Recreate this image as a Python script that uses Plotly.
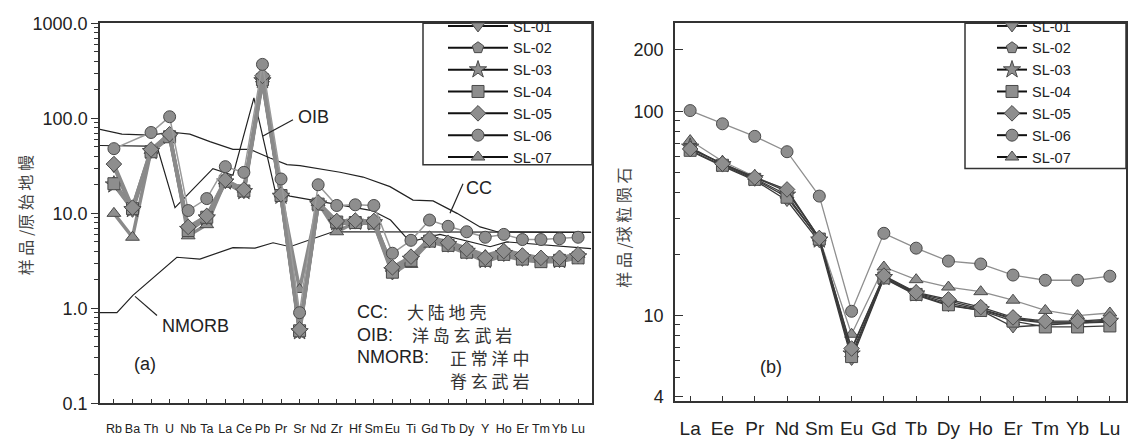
import plotly.graph_objects as go

# ---------------- data ----------------
spider_elements = ["Rb", "Ba", "Th", "U", "Nb", "Ta", "La", "Ce", "Pb", "Pr", "Sr", "Nd", "Zr",
                   "Hf", "Sm", "Eu", "Ti", "Gd", "Tb", "Dy", "Y", "Ho", "Er", "Tm", "Yb", "Lu"]
ree_elements = ["La", "Ee", "Pr", "Nd", "Sm", "Eu", "Gd", "Tb", "Dy", "Ho", "Er", "Tm", "Yb", "Lu"]
samples = ["SL-01", "SL-02", "SL-03", "SL-04", "SL-05", "SL-06", "SL-07"]
symbols = ["triangle-down", "pentagon", "star", "square", "diamond", "circle", "triangle-up"]

# primitive-mantle normalised (a)
pm_SL01 = [31, 10.5, 44, 63, 6.5, 8.8, 21, 16.5, 240, 15, 0.55, 12.3, 7.8, 7.9, 7.8, 2.3, 3.1, 5.0, 4.5, 3.8, 3.1, 3.6, 3.2, 3.1, 3.1, 3.4]
pm_SL02 = [21, 11.5, 46, 66, 7.0, 9.3, 22, 17.5, 260, 15.5, 0.60, 12.8, 8.2, 8.3, 8.2, 2.6, 3.4, 5.3, 4.8, 4.1, 3.3, 3.9, 3.5, 3.3, 3.3, 3.6]
pm_SL03 = [20, 11, 45, 65, 6.8, 9.0, 21.5, 17, 250, 15.2, 0.57, 12.6, 8.0, 8.1, 8.0, 2.5, 3.3, 5.2, 4.7, 4.0, 3.2, 3.8, 3.4, 3.2, 3.2, 3.5]
pm_SL04 = [20.5, 11.2, 44.5, 64, 6.6, 9.1, 21.8, 17.2, 255, 15.4, 0.58, 12.5, 8.1, 8.0, 7.9, 2.4, 3.2, 5.1, 4.6, 3.9, 3.2, 3.7, 3.3, 3.1, 3.2, 3.4]
pm_SL05 = [33, 11.5, 47, 68, 7.2, 9.4, 22.5, 17.8, 280, 15.8, 0.60, 13, 8.3, 8.4, 8.3, 2.7, 3.5, 5.4, 4.9, 4.2, 3.4, 4.0, 3.6, 3.4, 3.4, 3.7]
pm_SL06 = [48, None, 71, 104, 10.7, 14.3, 31, 27, 370, 23, 0.90, 20, 12.1, 12.3, 12.1, 3.8, 5.2, 8.5, 7.3, 6.4, 5.6, 6.0, 5.3, 5.3, 5.4, 5.6]
pm_SL07 = [10, 5.6, 46, 70, 5.8, 7.6, 22, 18, 260, 16, 1.58, 13, 6.4, 8.0, 8.2, 2.7, 2.9, 5.6, 5.0, 4.3, 3.6, 4.1, 3.7, 3.4, 3.4, 3.7]
pm_values = [pm_SL01, pm_SL02, pm_SL03, pm_SL04, pm_SL05, pm_SL06, pm_SL07]

# reference curves (a), positions on the element index scale
ref_upper_x = [-0.75, 0.43, 1.94, 3.13, 4.09, 5.17, 6.41, 7.33, 8.41, 9.32, 10.02, 12.18, 13.42, 14.87, 16.11, 17.19, 18.48, 19.72, 20.64, 25.7]
ref_upper_y = [76.6, 68.3, 66.7, 71.4, 68.3, 56.8, 47.1, 47.1, 38.3, 32.6, 31.8, 27.1, 24.1, 19.1, 13.8, 13.5, 10.0, 7.2, 6.4, 6.3]
ref_spike_x = [-0.75, 1.78, 2.37, 3.29, 5.33, 6.41, 7.54, 8.67, 9.48, 11.0, 12.5, 13.9, 14.9, 15.95, 17.56, 20.26, 21.17, 25.7]
ref_spike_y = [51.8, 51.0, 47.0, 11.5, 29.6, 25.2, 164, 17.8, 15.2, 13.5, 12.0, 10.7, 8.5, 5.0, 6.0, 4.45, 5.0, 4.25]
nmorb_x = [-0.75, 0.16, 1.02, 2.10, 3.39, 4.63, 6.41, 7.60, 8.57, 9.48, 11.8, 25.7]
nmorb_y = [0.90, 0.90, 1.37, 2.1, 3.45, 3.3, 4.35, 4.3, 4.9, 4.45, 6.4, 6.3]

# chondrite normalised (b)
ch_SL01 = [64, 54, 46, 36.6, 23, 6.1, 15.2, 12.6, 11.2, 10.6, 8.8, 9.0, 9.2, 9.3]
ch_SL02 = [66, 55.5, 47.5, 40.5, 24, 6.8, 15.6, 12.9, 11.8, 10.8, 9.7, 9.3, 9.3, 9.5]
ch_SL03 = [67, 55, 47, 39, 23.5, 6.5, 15.4, 12.8, 11.5, 10.7, 9.6, 9.2, 9.2, 9.4]
ch_SL04 = [64.5, 54.5, 46.5, 38, 23.7, 6.3, 15.3, 12.7, 11.3, 10.6, 9.4, 8.8, 8.8, 8.9]
ch_SL05 = [65.5, 55.5, 47.5, 41.5, 24, 6.9, 15.7, 13.0, 12.0, 11.0, 9.8, 9.4, 9.4, 9.6]
ch_SL06 = [101, 87, 75.5, 63.5, 38.5, 10.5, 25.3, 21.4, 18.5, 17.9, 15.8, 14.9, 14.9, 15.6]
ch_SL07 = [72, 57, 48, 41, 24, 8.1, 17.3, 15.0, 13.8, 13.1, 11.9, 10.6, 10.0, 10.3]
ch_values = [ch_SL01, ch_SL02, ch_SL03, ch_SL04, ch_SL05, ch_SL06, ch_SL07]

# ---------------- figure ----------------
W, H = 1130, 441
def px(x):
    return x / W
def py(y):
    return 1 - y / H

FONT = "Liberation Sans, Arial, sans-serif"
CJK = "Noto Sans CJK SC, sans-serif"
MFILL = "#8e8e8e"
MEDGE = "#4a4a4a"

fig = go.Figure()

# reference curves
for xs, ys in [(ref_upper_x, ref_upper_y), (ref_spike_x, ref_spike_y), (nmorb_x, nmorb_y)]:
    fig.add_trace(go.Scatter(x=xs, y=ys, mode="lines", line=dict(color="#222222", width=1.2),
                             showlegend=False, hoverinfo="skip", xaxis="x", yaxis="y"))

idx_a = list(range(len(spider_elements)))
idx_b = list(range(len(ree_elements)))

draw_order = [6, 0, 1, 2, 3, 4, 5]
for i in draw_order:
    name = samples[i]
    is06 = (i == 5)
    fig.add_trace(go.Scatter(
        x=idx_a, y=pm_values[i], mode="lines+markers", name=name, connectgaps=True,
        line=dict(color="#9a9a9a" if is06 else "#8a8a8a", width=1.5 if is06 else 3.5),
        marker=dict(symbol=symbols[i], size=12 if i != 2 else 13, color=MFILL,
                    line=dict(color=MEDGE, width=1)),
        showlegend=False, xaxis="x", yaxis="y"))
for i in draw_order:
    name = samples[i]
    lc = "#8f8f8f" if i in (5, 6) else "#3a3a3a"
    fig.add_trace(go.Scatter(
        x=idx_b, y=ch_values[i], mode="lines+markers", name=name,
        line=dict(color=lc, width=1.3),
        marker=dict(symbol=symbols[i], size=12 if i != 2 else 13, color=MFILL,
                    line=dict(color=MEDGE, width=1)),
        showlegend=False, xaxis="x2", yaxis="y2"))

# legend entries (black line + grey marker)
for leg, xa, ya in [("legend", "x", "y"), ("legend2", "x2", "y2")]:
    for i in range(7):
        fig.add_trace(go.Scatter(
            x=[None], y=[None], mode="lines+markers", name=samples[i], legend=leg,
            line=dict(color="#111111", width=2),
            marker=dict(symbol=symbols[i], size=12 if i != 2 else 13, color=MFILL,
                        line=dict(color=MEDGE, width=1)),
            xaxis=xa, yaxis=ya))

axis_common = dict(showline=True, linecolor="#333333", linewidth=1.5, mirror=True,
                   showgrid=False, zeroline=False, tickcolor="#333333")

minor_a = [m * 10 ** k for k in range(-1, 3) for m in range(2, 10)]
minor_b = [5, 6, 7, 8, 9, 20, 30, 40, 50, 60, 70, 80, 90]

fig.update_layout(
    width=W, height=H, margin=dict(l=0, r=0, t=0, b=0),
    paper_bgcolor="white", plot_bgcolor="white",
    font=dict(family=FONT, color="#222222"),
    xaxis=dict(domain=[px(100), px(592)], range=[-0.75, 25.75], anchor="y",
               tickmode="array", tickvals=idx_a, ticktext=spider_elements,
               ticks="inside", ticklen=5, tickfont=dict(size=12.5, family=FONT),
               tickangle=0, ticklabelstandoff=13, **axis_common),
    yaxis=dict(domain=[py(412), py(14)], type="log", range=[-1, 3], anchor="x",
               tickmode="array", tickvals=[0.1, 1, 10, 100, 1000],
               ticktext=["0.1", "1.0", "10.0", "100.0", "1000.0"],
               ticks="outside", ticklen=7, tickfont=dict(size=18),
               minor=dict(tickvals=minor_a, ticks="outside", ticklen=4, tickcolor="#333333"),
               **axis_common),
    xaxis2=dict(domain=[px(675), px(1126)], range=[-0.47, 13.5], anchor="y2",
                tickmode="array", tickvals=idx_b, ticktext=ree_elements,
                ticks="inside", ticklen=6, tickfont=dict(size=19),
                tickangle=0, ticklabelstandoff=9, **axis_common),
    yaxis2=dict(domain=[py(410), py(14)], type="log", range=[0.5798, 2.4314], anchor="x2",
                tickmode="array", tickvals=[4, 10, 100, 200], ticktext=["4", "10", "100", "200"],
                ticks="inside", ticklen=8, tickfont=dict(size=18), ticklabelstandoff=6,
                minor=dict(tickvals=minor_b, ticks="inside", ticklen=5, tickcolor="#333333"),
                **axis_common),
    legend=dict(x=px(443), y=1.0, xanchor="left", yanchor="top", bgcolor="rgba(0,0,0,0)",
                borderwidth=0, font=dict(size=14.5, family=FONT, color="#222"),
                itemwidth=60, tracegroupgap=0),
    legend2=dict(x=px(992), y=1.0, xanchor="left", yanchor="top", bgcolor="rgba(0,0,0,0)",
                 borderwidth=0, font=dict(size=14.5, family=FONT, color="#222"),
                 itemwidth=30, tracegroupgap=0),
)

shapes = [
    dict(type="rect", xref="paper", yref="paper", x0=px(423), x1=px(592), y0=py(162), y1=py(14),
         line=dict(color="#333333", width=1.5), fillcolor="rgba(0,0,0,0)", layer="above"),
    dict(type="rect", xref="paper", yref="paper", x0=px(965), x1=px(1126), y0=py(166), y1=py(14),
         line=dict(color="#333333", width=1.5), fillcolor="rgba(0,0,0,0)", layer="above"),
    # leader lines
    dict(type="line", xref="paper", yref="paper", x0=px(293), y0=py(115), x1=px(263), y1=py(132),
         line=dict(color="#222", width=1.2)),
    dict(type="line", xref="paper", yref="paper", x0=px(463), y0=py(182), x1=px(450), y1=py(213),
         line=dict(color="#222", width=1.2)),
    dict(type="line", xref="paper", yref="paper", x0=px(157), y0=py(320), x1=px(135), y1=py(300),
         line=dict(color="#222", width=1.2)),
]
fig.update_layout(shapes=shapes)

def ann(x, y, text, size=18, family=FONT, xanchor="left", color="#222", angle=0):
    return dict(x=px(x), y=py(y), xref="paper", yref="paper", text=text, showarrow=False,
                xanchor=xanchor, yanchor="middle", textangle=angle,
                font=dict(size=size, family=family, color=color))

annotations = [
    ann(296, 112, "OIB"),
    ann(464, 186, "CC"),
    ann(160, 331, "NMORB"),
    ann(132, 371, "(a)"),
    ann(355, 316, "CC:"),
    ann(405, 316, "大 陆 地 壳", size=17, family=CJK, color="#333"),
    ann(355, 340, "OIB:"),
    ann(410, 340, "洋 岛 玄 武 岩", size=17, family=CJK, color="#333"),
    ann(355, 364, "NMORB:"),
    ann(448, 364, "正 常 洋 中", size=17, family=CJK, color="#333"),
    ann(448, 388, "脊 玄 武 岩", size=17, family=CJK, color="#333"),
    ann(758, 374, "(b)"),
    ann(25, 215, "样 品 /原 始 地 幔", size=16, family=CJK, xanchor="center", color="#444", angle=-90),
    ann(623, 228, "样 品 /球 粒 陨 石", size=16, family=CJK, xanchor="center", color="#444", angle=-90),
]
fig.update_layout(annotations=annotations)

fig.write_html("out.html")
